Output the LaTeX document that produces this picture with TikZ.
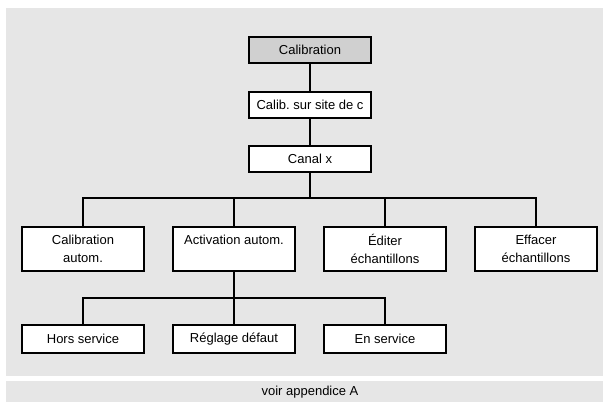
\documentclass[tikz,border=0pt]{standalone}
\usepackage{fontspec}
\setmainfont{Liberation Sans}
\usepackage{tikz}
\usetikzlibrary{positioning}
\frenchspacing

\definecolor{panelgray}{HTML}{E6E6E6}
\definecolor{headgray}{HTML}{D0D0D0}

\begin{document}
\begin{tikzpicture}[
    x=1pt, y=-1pt,
    box/.style={rectangle, draw=black, line width=1.8pt,
                minimum width=122pt, minimum height=26pt, align=center,
                fill=white, font=\fontsize{13}{17.5}\selectfont, inner sep=0pt},
    headbox/.style={box, fill=headgray},
    twobox/.style={box, minimum height=44pt},
    leafbox/.style={box, minimum height=28pt},
    link/.style={line width=1.8pt}
]

\useasboundingbox (0,0) rectangle (603,402);

% ================= BACKGROUND =================
\fill[panelgray] (6,8) rectangle (603,376);
\fill[panelgray] (6,381) rectangle (603,402);
\node[font=\fontsize{13}{15}\selectfont] (Note) at (310,392) {voir appendice A};

% ================= NODES =================
\node[headbox] (Calib) at (310,50) {Calibration};

\node[box] (Site) at (310,105) {Calib. sur site de c};

\node[box] (Canal) at (310,159) {Canal x};

\coordinate (BusA) at (310,198);

\node[twobox] (AutoCal) at (83,249) {Calibration\\autom.};

\node[twobox] (AutoAct) at (234,249) {Activation autom.\\\phantom{autom.}};

\node[twobox] (Edit) at (385,249) {Éditer\\échantillons};

\node[twobox] (Erase) at (536,249) {Effacer\\échantillons};

\coordinate (BusB) at (234,298);

\node[leafbox] (Off) at (83,339) {Hors service};

\node[leafbox] (Default) at (234,339) {Réglage défaut};

\node[leafbox] (On) at (385,339) {En service};

% ================= CONNECTORS =================
\draw[link] (Calib) -- (Site);
\draw[link] (Site) -- (Canal);
\draw[link] (Canal) -- (BusA);
\draw[link] (BusA) -| (AutoCal.north);
\draw[link] (BusA) -| (AutoAct.north);
\draw[link] (BusA) -| (Edit.north);
\draw[link] (BusA) -| (Erase.north);
\draw[link] (AutoAct) -- (BusB);
\draw[link] (BusB) -| (Off.north);
\draw[link] (BusB) -- (Default);
\draw[link] (BusB) -| (On.north);

\end{tikzpicture}
\end{document}
